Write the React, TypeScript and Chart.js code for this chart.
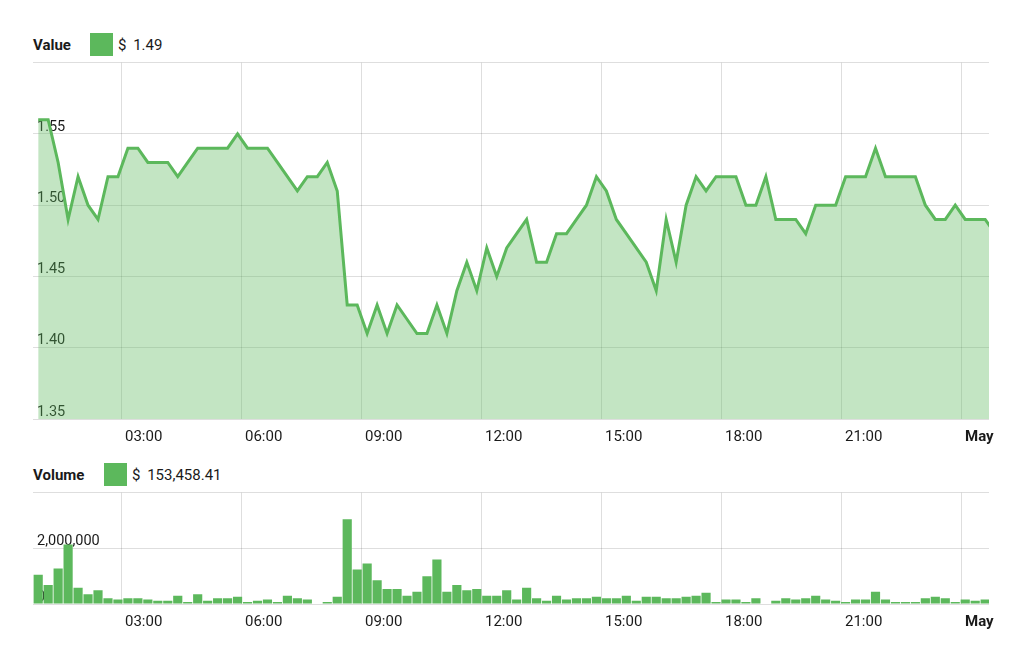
import React, { useEffect, useRef } from 'react';
import { Chart, registerables } from 'chart.js';

Chart.register(...registerables);

// ---- data ----
const START_HOUR = 0.93; // first sample (hours after 00:00, Apr 30)
const STEP_HOURS = 0.2492; // sample interval (~15 min)
const X_MIN = 0.8;
const X_MAX = 24.7;
const X_TICKS = [3, 6, 9, 12, 15, 18, 21, 24];
const X_TICK_LABELS = ['03:00', '06:00', '09:00', '12:00', '15:00', '18:00', '21:00', 'May'];

const PRICE = [
  1.56, 1.56, 1.53, 1.49, 1.52, 1.5, 1.49, 1.52, 1.52, 1.54,
  1.54, 1.53, 1.53, 1.53, 1.52, 1.53, 1.54, 1.54, 1.54, 1.54,
  1.55, 1.54, 1.54, 1.54, 1.53, 1.52, 1.51, 1.52, 1.52, 1.53,
  1.51, 1.43, 1.43, 1.41, 1.43, 1.41, 1.43, 1.42, 1.41, 1.41,
  1.43, 1.41, 1.44, 1.46, 1.44, 1.47, 1.45, 1.47, 1.48, 1.49,
  1.46, 1.46, 1.48, 1.48, 1.49, 1.5, 1.52, 1.51, 1.49, 1.48,
  1.47, 1.46, 1.44, 1.49, 1.46, 1.5, 1.52, 1.51, 1.52, 1.52,
  1.52, 1.5, 1.5, 1.52, 1.49, 1.49, 1.49, 1.48, 1.5, 1.5,
  1.5, 1.52, 1.52, 1.52, 1.54, 1.52, 1.52, 1.52, 1.52, 1.5,
  1.49, 1.49, 1.5, 1.49, 1.49, 1.49, 1.48,
];

const VOLUME = [
  1050000, 680000, 1280000, 2140000, 580000, 350000, 490000, 210000, 160000, 210000,
  210000, 160000, 120000, 120000, 300000, 70000, 350000, 120000, 210000, 210000,
  260000, 70000, 120000, 160000, 70000, 300000, 210000, 160000, 20000, 70000,
  260000, 3050000, 1240000, 1460000, 850000, 540000, 540000, 300000, 440000, 1000000,
  1600000, 440000, 680000, 490000, 540000, 300000, 300000, 490000, 160000, 580000,
  210000, 120000, 300000, 160000, 210000, 210000, 260000, 210000, 210000, 300000,
  120000, 260000, 260000, 210000, 210000, 260000, 300000, 400000, 70000, 160000,
  160000, 70000, 210000, 20000, 120000, 210000, 160000, 210000, 300000, 160000,
  120000, 70000, 160000, 160000, 440000, 160000, 70000, 70000, 70000, 210000,
  260000, 210000, 70000, 160000, 120000, 160000,
];

const PRICE_TICKS = [1.35, 1.4, 1.45, 1.5, 1.55, 1.6];
const VOLUME_TICKS = [0, 2000000, 4000000];

const CURRENT_PRICE = '1.49';
const CURRENT_VOLUME = '153,458.41';

// ---- style ----
const GREEN = '#5cb85c';
const FILL = 'rgba(92,184,92,0.37)';
const GRID = 'rgba(0,0,0,0.13)';
const TEXT = '#1a1a1a';
const FONT = 'Roboto, "Helvetica Neue", Arial, sans-serif';

const withCommas = (v: number) => String(v).replace(/\B(?=(\d{3})+(?!\d))/g, ',');

function xScale() {
  return {
    type: 'linear',
    min: X_MIN,
    max: X_MAX,
    offset: false,
    afterBuildTicks: (s: any) => {
      s.ticks = X_TICKS.map((v) => ({ value: v }));
    },
    afterFit: (s: any) => {
      s.height = 28;
    },
    grid: { color: GRID, drawTicks: false, offset: false, lineWidth: 1 },
    border: { display: false },
    ticks: {
      autoSkip: false,
      maxRotation: 0,
      minRotation: 0,
      align: 'start',
      labelOffset: 4,
      padding: 9,
      color: TEXT,
      font: (ctx: any) => ({
        family: FONT,
        size: 15,
        weight: ctx.tick && ctx.tick.value === 24 ? 'bold' : 'normal',
      }),
      callback: (v: any) => {
        const i = X_TICKS.indexOf(Number(v));
        return i >= 0 ? X_TICK_LABELS[i] : '';
      },
    },
  };
}

function yScales(ticks: number[], fmt: (v: number) => string) {
  const min = ticks[0];
  const max = ticks[ticks.length - 1];
  const setTicks = (s: any) => {
    s.ticks = ticks.map((v) => ({ value: v }));
  };
  const zeroWidth = (s: any) => {
    s.width = 0;
  };
  return {
    y: {
      type: 'linear',
      position: 'left',
      min,
      max,
      afterBuildTicks: setTicks,
      afterFit: zeroWidth,
      grid: { color: GRID, drawTicks: false },
      border: { display: false },
      ticks: { display: false },
    },
    yLabels: {
      type: 'linear',
      position: 'left',
      min,
      max,
      z: 1,
      afterBuildTicks: setTicks,
      afterFit: zeroWidth,
      grid: { display: false, drawTicks: false },
      border: { display: false },
      ticks: {
        mirror: true,
        padding: 4,
        labelOffset: -7,
        color: TEXT,
        font: { family: FONT, size: 14.5 },
        callback: (v: any) => (Number(v) === max ? '' : fmt(Number(v))),
      },
    },
  };
}

function useChart(ref: React.RefObject<HTMLCanvasElement>, build: () => any) {
  useEffect(() => {
    if (!ref.current) return;
    const chart = new Chart(ref.current, build());
    return () => chart.destroy();
  }, []);
}

function PriceChart() {
  const ref = useRef<HTMLCanvasElement>(null);
  useChart(ref, () => ({
    type: 'line',
    data: {
      datasets: [
        {
          data: PRICE.map((p, i) => ({ x: START_HOUR + i * STEP_HOURS, y: p })),
          borderColor: GREEN,
          backgroundColor: FILL,
          borderWidth: 3,
          pointRadius: 0,
          tension: 0,
          fill: 'start',
        },
      ],
    },
    options: {
      animation: false,
      responsive: false,
      devicePixelRatio: 1,
      layout: { padding: { left: 33, right: 35, top: 10, bottom: 0 } },
      plugins: { legend: { display: false }, tooltip: { enabled: false } },
      scales: {
        x: xScale(),
        ...yScales(PRICE_TICKS, (v) => v.toFixed(2)),
      },
    },
  }));
  return (
    <canvas
      ref={ref}
      width={1024}
      height={397}
      style={{ position: 'absolute', left: 0, top: 50, width: 1024, height: 397 }}
    />
  );
}

function VolumeChart() {
  const ref = useRef<HTMLCanvasElement>(null);
  useChart(ref, () => ({
    type: 'bar',
    data: {
      datasets: [
        {
          data: VOLUME.map((v, i) => ({ x: START_HOUR + i * STEP_HOURS, y: v })),
          backgroundColor: GREEN,
          borderWidth: 0,
          barPercentage: 0.92,
          categoryPercentage: 1,
        },
      ],
    },
    options: {
      animation: false,
      responsive: false,
      devicePixelRatio: 1,
      layout: { padding: { left: 33, right: 35, top: 10, bottom: 0 } },
      plugins: { legend: { display: false }, tooltip: { enabled: false } },
      scales: {
        x: xScale(),
        ...yScales(VOLUME_TICKS, withCommas),
      },
    },
  }));
  return (
    <canvas
      ref={ref}
      width={1024}
      height={152}
      style={{ position: 'absolute', left: 0, top: 480, width: 1024, height: 152 }}
    />
  );
}

function Header({ title, value, top, squareLeft }: { title: string; value: string; top: number; squareLeft: number }) {
  return (
    <>
      <div
        style={{
          position: 'absolute',
          left: 33,
          top: top - 10,
          height: 20,
          lineHeight: '20px',
          fontFamily: FONT,
          fontWeight: 'bold',
          fontSize: 15,
          color: TEXT,
        }}
      >
        {title}
      </div>
      <div
        style={{
          position: 'absolute',
          left: squareLeft,
          top: top - 12,
          width: 23,
          height: 23,
          background: GREEN,
        }}
      />
      <div
        style={{
          position: 'absolute',
          left: squareLeft + 28,
          top: top - 10,
          height: 20,
          lineHeight: '20px',
          fontFamily: FONT,
          fontSize: 15,
          color: TEXT,
          wordSpacing: 3,
          whiteSpace: 'nowrap',
        }}
      >
        {'$ ' + value}
      </div>
    </>
  );
}

export default function App() {
  return (
    <div
      style={{
        position: 'absolute',
        left: 0,
        top: 0,
        width: 1024,
        height: 665,
        background: '#fff',
        overflow: 'hidden',
      }}
    >
      <Header title="Value" value={CURRENT_PRICE} top={45} squareLeft={90} />
      <PriceChart />
      <Header title="Volume" value={CURRENT_VOLUME} top={475} squareLeft={104} />
      <VolumeChart />
    </div>
  );
}
